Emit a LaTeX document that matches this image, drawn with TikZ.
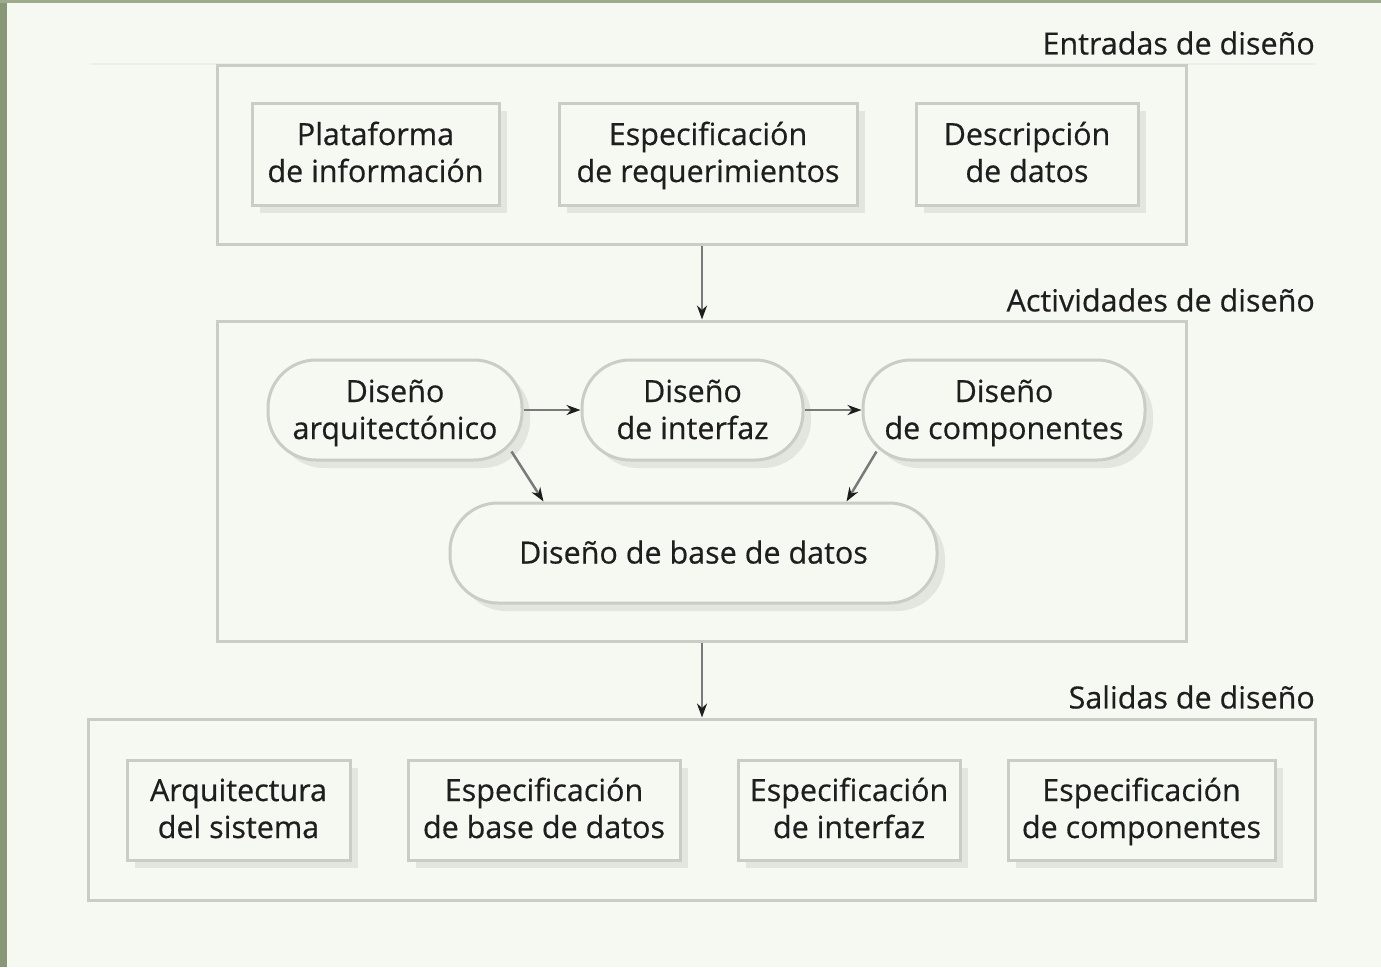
\documentclass[tikz,border=0pt]{standalone}
\usepackage{fontspec}
\setmainfont{Open Sans}[FakeBold=0.5]
\usepackage{xcolor}
\usepackage{tikz}
\usetikzlibrary{positioning}
\usetikzlibrary{arrows.meta}
\usetikzlibrary{shadows}
\definecolor{paper}{HTML}{F6F8F2}
\definecolor{strip}{HTML}{889876}
\definecolor{frame}{HTML}{CACCC6}
\definecolor{faint}{HTML}{ECEEE8}
\definecolor{shade}{HTML}{E3E5DF}
\definecolor{ink}{HTML}{1E1E1E}
\definecolor{stem}{HTML}{7A7A7A}
\pgfdeclarelayer{paperlayer}
\pgfdeclarelayer{grouplayer}
\pgfdeclarelayer{nodelayer}
\pgfdeclarelayer{edgelayer}
\pgfsetlayers{paperlayer,grouplayer,nodelayer,edgelayer,main}
\tikzset{
    none/.style = {inner sep=0pt, text=ink},
    group/.style = {draw=frame, line width=3pt, fill=paper},
    card/.style = {draw=frame, line width=3pt, fill=paper, text=ink,
        align=center, inner sep=0pt,
        drop shadow={shadow xshift=8pt, shadow yshift=-8pt, fill=shade, opacity=1}},
    inbox/.style = {card, text height=64pt, text depth=8pt},
    actbox/.style = {card, rounded corners=48pt, text height=66pt, text depth=8pt}
}

\begin{document}
\begin{tikzpicture}[x=1pt, y=-1pt, font=\fontsize{30.5}{37}\selectfont]
    % Larger arrow heads for the flow
    \tikzset{>={Stealth[length=14pt, width=10pt, color=ink]}}
    \tikzset{flow/.style = {->, line width=2.5pt, draw=stem}}
    \useasboundingbox (0,0) rectangle (1381,967);

    \begin{pgfonlayer}{paperlayer}
        \fill [paper] (0,0) rectangle (1381,967);
        \fill [strip] (0,0) rectangle (7,967);
        \fill [strip!80!paper] (0,0) rectangle (1381,3);
    \end{pgfonlayer}
    \begin{pgfonlayer}{grouplayer}
        \draw [faint, line width=2pt] (90,64) -- (1315,64);
        \node [group, minimum width=969pt, minimum height=179pt] (0) at (702,154.5) {};
        \node [group, minimum width=969pt, minimum height=320pt] (1) at (702,481) {};
        \node [group, minimum width=1227pt, minimum height=181pt] (2) at (702,809.5) {};
        \node [style=none, anchor=east] (3) at (1315,43) {Entradas de diseño};
        \node [style=none, anchor=east] (4) at (1315,300) {Actividades de diseño};
        \node [style=none, anchor=east] (5) at (1315,697) {Salidas de diseño};
    \end{pgfonlayer}
    \begin{pgfonlayer}{nodelayer}
        \node [inbox, minimum width=247pt, minimum height=102pt] (6) at (375.5,154) {Plataforma\\de información};
        \node [inbox, minimum width=298pt, minimum height=102pt] (7) at (708,154) {Especificación\\de requerimientos};
        \node [inbox, minimum width=222pt, minimum height=102pt] (8) at (1027,154) {Descripción\\de datos};
        \node [actbox, minimum width=254pt, minimum height=100pt] (9) at (395,410) {Diseño\\arquitectónico};
        \node [actbox, minimum width=221pt, minimum height=100pt] (10) at (692.5,410) {Diseño\\de interfaz};
        \node [actbox, minimum width=282pt, minimum height=100pt] (11) at (1004,410) {Diseño\\de componentes};
        \node [actbox, minimum width=487pt, minimum height=100pt,
            text height=26pt, text depth=5pt] (12) at (693.5,553) {Diseño de base de datos};
        \node [inbox, minimum width=223pt, minimum height=100pt] (13) at (238.5,810) {Arquitectura\\del sistema};
        \node [inbox, minimum width=272pt, minimum height=100pt] (14) at (544,810) {Especificación\\de base de datos};
        \node [inbox, minimum width=222pt, minimum height=100pt] (15) at (849,810) {Especificación\\de interfaz};
        \node [inbox, minimum width=267pt, minimum height=100pt] (16) at (1141.5,810) {Especificación\\de componentes};
    \end{pgfonlayer}
    \begin{pgfonlayer}{edgelayer}
        \draw [flow] (0.south) to (1.north);
        \draw [flow] (1.south) to (2.north);
        \draw [flow] (9.east) to (10.west);
        \draw [flow] (10.east) to (11.west);
        \draw [flow] ([xshift=-12pt, yshift=10pt]9.south east) to ([xshift=95pt]12.north west);
        \draw [flow] ([xshift=15pt, yshift=10pt]11.south west) to ([xshift=-92pt]12.north east);
    \end{pgfonlayer}
\end{tikzpicture}
\end{document}
